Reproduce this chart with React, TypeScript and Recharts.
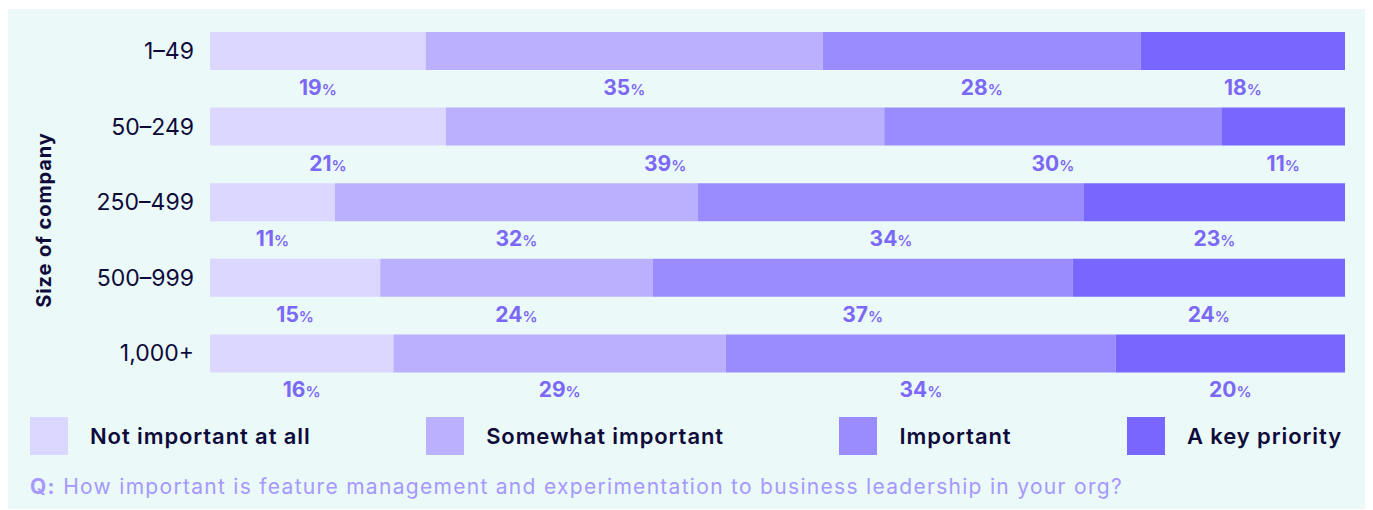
import { BarChart, Bar, XAxis, YAxis, LabelList } from 'recharts'

const companySizes = ['1–49', '50–249', '250–499', '500–999', '1,000+']
const notImportant = [19, 21, 11, 15, 16]
const somewhatImportant = [35, 39, 32, 24, 29]
const important = [28, 30, 34, 37, 34]
const keyPriority = [18, 11, 23, 24, 20]

const seriesNames = ['Not important at all', 'Somewhat important', 'Important', 'A key priority']
const seriesKeys = ['notImportant', 'somewhat', 'important', 'keyPriority']
const seriesColors = ['#DCD7FE', '#BAB0FE', '#9A8BFE', '#7866FF']

const data = companySizes.map((size, i) => ({
  size,
  notImportant: notImportant[i],
  somewhat: somewhatImportant[i],
  important: important[i],
  keyPriority: keyPriority[i],
}))

const FONT = 'Inter, "Noto Sans", sans-serif'
const NAVY = '#0E0B3B'
const LABEL_PURPLE = '#7B68F6'

// percentage printed under each segment, number bold and % sign smaller
const PercentLabel = (props: any) => {
  const { x, y, width, height, value } = props
  return (
    <text
      x={Number(x) + Number(width) / 2}
      y={Number(y) + Number(height) + 25}
      textAnchor="middle"
      fill={LABEL_PURPLE}
      fontFamily={FONT}
    >
      <tspan fontSize={21} fontWeight={700}>{value}</tspan>
      <tspan fontSize={15} fontWeight={600}>%</tspan>
    </text>
  )
}

const AxisTitle = (props: any) => {
  const { viewBox } = props
  const cx = viewBox.x + 38
  const cy = viewBox.y + viewBox.height / 2 + 18
  return (
    <text
      x={cx}
      y={cy}
      transform={`rotate(-90 ${cx} ${cy})`}
      textAnchor="middle"
      dominantBaseline="central"
      fill={NAVY}
      fontFamily={FONT}
      fontSize={20}
      fontWeight={700}
      letterSpacing={0.9}
    >
      Size of company
    </text>
  )
}

export default function App() {
  return (
    <div
      style={{
        position: 'relative',
        left: -2,
        top: 1,
        width: 1362,
        height: 501,
        background: '#EBF9F8',
        fontFamily: FONT,
      }}
    >
      <BarChart
        width={1362}
        height={400}
        data={data}
        layout="vertical"
        stackOffset="expand"
        barSize={38}
        margin={{ top: 4, right: 23, bottom: 18, left: 0 }}
      >
        <XAxis type="number" hide domain={[0, 1]} />
        <YAxis
          type="category"
          dataKey="size"
          width={204}
          axisLine={false}
          tickLine={false}
          tickMargin={10}
          tick={{ fill: NAVY, fontSize: 23, fontFamily: FONT }}
          label={<AxisTitle />}
        />
        {seriesKeys.map((key, i) => (
          <Bar
            key={key}
            dataKey={key}
            name={seriesNames[i]}
            stackId="a"
            fill={seriesColors[i]}
            isAnimationActive={false}
          >
            <LabelList dataKey={key} content={<PercentLabel />} />
          </Bar>
        ))}
      </BarChart>

      <div
        style={{
          position: 'absolute',
          left: 24,
          right: 26,
          top: 408,
          display: 'flex',
          justifyContent: 'space-between',
          alignItems: 'center',
        }}
      >
        {seriesNames.map((name, i) => (
          <div key={name} style={{ display: 'flex', alignItems: 'center' }}>
            <span style={{ width: 38, height: 38, background: seriesColors[i], display: 'inline-block' }} />
            <span style={{ marginLeft: 22, fontSize: 22, fontWeight: 600, letterSpacing: 0.9, color: NAVY }}>
              {name}
            </span>
          </div>
        ))}
      </div>

      <div
        style={{
          position: 'absolute',
          left: 24,
          top: 465,
          fontSize: 21,
          letterSpacing: 1.3,
          color: '#A598FF',
        }}
      >
        <span style={{ fontWeight: 700 }}>Q:</span> How important is feature management and experimentation to business
        leadership in your org?
      </div>
    </div>
  )
}
